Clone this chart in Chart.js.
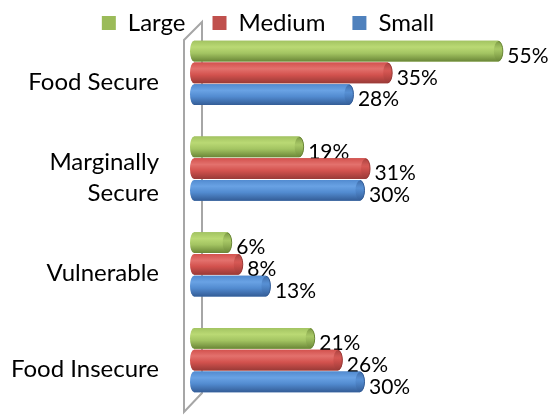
<!DOCTYPE html>
<html lang="en">
  <head>
    <meta charset="UTF-8" />
    <title>Food security by size</title>
    <script src="https://cdn.jsdelivr.net/npm/chart.js"></script>
    <style>
      body { margin: 0; background: #fff; }
      #wrap { width: 555px; height: 416px; }
    </style>
  </head>
  <body>
    <div id="wrap"><canvas id="foodChart"></canvas></div>

    <script>
      const categories = ["Food Secure", ["Marginally", "Secure"], "Vulnerable", "Food Insecure"];
      const seriesNames = ["Large", "Medium", "Small"];
      const largeValues = [55, 19, 6, 21];
      const mediumValues = [35, 31, 8, 26];
      const smallValues = [28, 30, 13, 30];

      const FONT = "Lato, 'Liberation Sans', sans-serif";

      // light / base / dark shades for the cylinder look
      const shades = [
        { light: "#bad974", base: "#a3c462", dark: "#6a8637", legend: "#9bbb59" },
        { light: "#e3716d", base: "#d3524e", dark: "#993a37", legend: "#c0504d" },
        { light: "#69a2e4", base: "#528bd0", dark: "#345d97", legend: "#4f81bd" },
      ];

      // legend: short box so the plot starts right under it, text nudged up
      const legendFix = {
        id: "legendFix",
        beforeInit(chart) {
          const fit = chart.legend.fit;
          chart.legend.fit = function () {
            fit.call(this);
            this.height = 25;
          };
        },
        afterLayout(chart) {
          chart.legend.top = -16;
          chart.legend.bottom = 45;
          chart.legend.left = 10;
        },
      };

      // 3d side wall behind the bars
      const wall = {
        id: "wall",
        beforeDatasetsDraw(chart) {
          const { ctx, chartArea } = chart;
          const front = chartArea.left - 10;
          const back = chartArea.left + 8;
          ctx.save();
          ctx.strokeStyle = "#a6a6a6";
          ctx.lineWidth = 2;
          ctx.beginPath();
          ctx.moveTo(front, chartArea.top + 15);
          ctx.lineTo(back, chartArea.top - 3);
          ctx.lineTo(back, chartArea.bottom - 15);
          ctx.lineTo(front, chartArea.bottom + 4);
          ctx.closePath();
          ctx.stroke();
          ctx.restore();
        },
      };

      // paint each bar as a shaded cylinder and add its value label
      const cylinders = {
        id: "cylinders",
        afterDatasetsDraw(chart) {
          const ctx = chart.ctx;
          chart.data.datasets.forEach((ds, i) => {
            const meta = chart.getDatasetMeta(i);
            const s = shades[i];
            meta.data.forEach((bar, j) => {
              const top = bar.y - bar.height / 2;
              const h = bar.height;
              const g = ctx.createLinearGradient(0, top, 0, top + h);
              g.addColorStop(0, s.base);
              g.addColorStop(0.3, s.light);
              g.addColorStop(0.6, s.base);
              g.addColorStop(1, s.dark);
              ctx.save();
              ctx.fillStyle = g;
              ctx.beginPath();
              ctx.ellipse(bar.base, bar.y, 4, h / 2, 0, Math.PI / 2, Math.PI * 1.5);
              ctx.lineTo(bar.x, top);
              ctx.ellipse(bar.x, bar.y, 4.5, h / 2, 0, -Math.PI / 2, Math.PI / 2);
              ctx.closePath();
              ctx.fill();

              // end cap, a little darker than the body
              const cap = ctx.createLinearGradient(0, top, 0, top + h);
              cap.addColorStop(0, s.dark);
              cap.addColorStop(0.4, s.base);
              cap.addColorStop(1, s.dark);
              ctx.fillStyle = cap;
              ctx.globalAlpha = 0.7;
              ctx.beginPath();
              ctx.ellipse(bar.x, bar.y, 4.5, h / 2 - 0.5, 0, 0, Math.PI * 2);
              ctx.fill();
              ctx.globalAlpha = 1;
              ctx.strokeStyle = s.dark;
              ctx.lineWidth = 1;
              ctx.beginPath();
              ctx.ellipse(bar.x, bar.y, 4.5, h / 2 - 0.5, 0, -Math.PI / 2, Math.PI / 2);
              ctx.stroke();

              ctx.fillStyle = "#000";
              ctx.font = "21px " + FONT;
              ctx.textAlign = "left";
              ctx.textBaseline = "middle";
              ctx.fillText(ds.data[j] + "%", bar.x + 9, bar.y + 5);
              ctx.restore();
            });
          });
        },
      };

      const seriesValues = [largeValues, mediumValues, smallValues];

      new Chart(document.getElementById("foodChart"), {
        type: "bar",
        data: {
          labels: categories,
          datasets: seriesNames.map((name, i) => ({
            label: name,
            data: seriesValues[i],
            backgroundColor: shades[i].legend,
            categoryPercentage: 0.68,
            barPercentage: 0.95,
          })),
        },
        options: {
          indexAxis: "y",
          responsive: true,
          maintainAspectRatio: false,
          animation: false,
          layout: { padding: { top: 0, right: 29, bottom: 8, left: 0 } },
          scales: {
            x: { display: false, min: 0, max: 60 },
            y: {
              grid: { display: false, drawTicks: false },
              border: { display: false },
              afterFit(scale) {
                scale.width = 194;
                scale.paddingTop = 0;
                scale.paddingBottom = 0;
              },
              ticks: {
                color: "#000",
                padding: 35,
                labelOffset: 9,
                font: { family: FONT, size: 24, lineHeight: 1.3 },
              },
            },
          },
          plugins: {
            tooltip: { enabled: false },
            legend: {
              position: "top",
              labels: {
                color: "#000",
                boxWidth: 14,
                boxHeight: 14,
                padding: 27,
                font: { family: FONT, size: 24 },
              },
            },
          },
        },
        plugins: [legendFix, wall, cylinders],
      });
    </script>
  </body>
</html>
